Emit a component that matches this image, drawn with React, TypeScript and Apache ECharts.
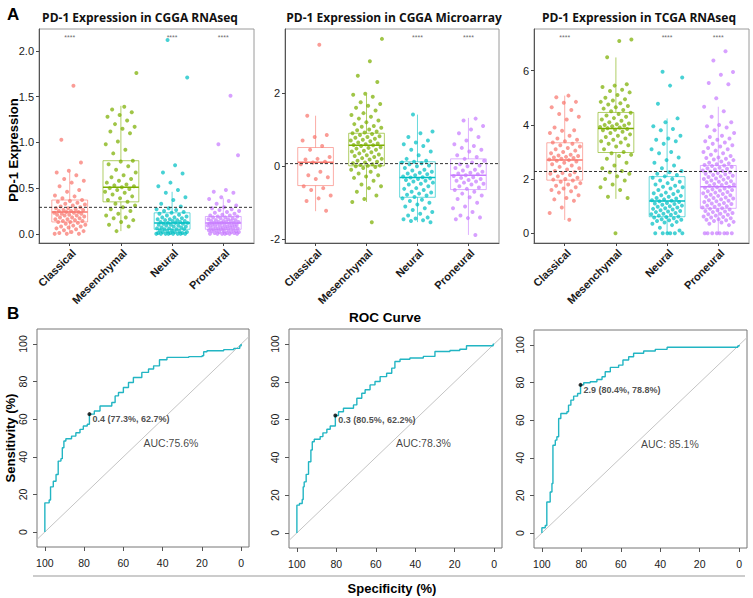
import React, { useEffect, useRef } from 'react';
import * as echarts from 'echarts';

const GROUPS = ['Classical', 'Mesenchymal', 'Neural', 'Proneural'];
const COLORS = ['#F8766D', '#7CAE00', '#00BFC4', '#C77CFF'];
const PANEL_TITLES = ['PD-1 Expression in CGGA RNAseq', 'PD-1 Expression in CGGA Microarray', 'PD-1 Expression in TCGA RNAseq'];

// box stats per group: [lower whisker, Q1, median, Q3, upper whisker]
const BOX_CGGA_RNA = [[0, 0.13, 0.24, 0.37, 0.68], [0.03, 0.35, 0.51, 0.8, 1.4], [0, 0.05, 0.12, 0.23, 0.46], [0, 0.05, 0.12, 0.19, 0.39]];
const BOX_CGGA_MA = [[-1.23, -0.53, 0.11, 0.51, 1.38], [-0.98, 0.01, 0.57, 0.9, 1.95], [-1.53, -0.85, -0.31, 0.12, 1.41], [-1.88, -0.64, -0.25, 0.2, 1.32]];
const BOX_TCGA = [[0.49, 1.96, 2.7, 3.34, 5.08], [1.27, 2.98, 3.87, 4.46, 6.49], [0, 0.61, 1.19, 2.09, 4.24], [0, 0.92, 1.72, 2.5, 4.67]];

// cut-off (dashed line) per panel
const CUTOFFS = [0.29, 0.07, 2.28];
// significance marks per group
const SIG_CGGA_RNA = [true, false, true, true];
const SIG_CGGA_MA = [false, false, true, true];
const SIG_TCGA = [true, false, true, true];
const SIG_LABEL = '****';

// individual sample points
const P1_CLASSICAL = [1.62, 1.03, 0.78, 0.69, 0.67, 0.64, 0.6, 0.58, 0.56, 0.52, 0.48, 0.46, 0.42, 0.41, 0.39, 0.37, 0.36, 0.35, 0.34, 0.33, 0.32, 0.31, 0.3, 0.29, 0.28, 0.28, 0.27, 0.26, 0.26, 0.25, 0.25, 0.24, 0.24, 0.23, 0.23, 0.22, 0.22, 0.21, 0.21, 0.2, 0.2, 0.19, 0.18, 0.18, 0.17, 0.16, 0.16, 0.15, 0.14, 0.14, 0.13, 0.13, 0.12, 0.11, 0.1, 0.09, 0.08, 0.08, 0.07, 0.06, 0.05, 0.04, 0.03, 0.02, 0.01, 0, 0, 0];
const P1_MESENCHYMAL = [1.76, 1.39, 1.36, 1.33, 1.3, 1.28, 1.24, 1.2, 1.17, 1.15, 1.12, 1.1, 1.01, 0.98, 0.92, 0.88, 0.8, 0.79, 0.76, 0.74, 0.7, 0.67, 0.64, 0.62, 0.6, 0.58, 0.56, 0.54, 0.53, 0.52, 0.51, 0.5, 0.49, 0.48, 0.46, 0.45, 0.43, 0.41, 0.39, 0.37, 0.35, 0.33, 0.31, 0.29, 0.27, 0.25, 0.22, 0.2, 0.18, 0.17, 0.15, 0.13, 0.1, 0.08, 0.03];
const P1_NEURAL = [2.12, 1.71, 0.75, 0.67, 0.66, 0.56, 0.52, 0.48, 0.45, 0.4, 0.37, 0.33, 0.3, 0.28, 0.27, 0.26, 0.25, 0.24, 0.23, 0.22, 0.21, 0.2, 0.19, 0.18, 0.18, 0.17, 0.16, 0.16, 0.15, 0.15, 0.14, 0.14, 0.13, 0.13, 0.12, 0.12, 0.12, 0.11, 0.11, 0.1, 0.1, 0.09, 0.09, 0.08, 0.08, 0.07, 0.07, 0.06, 0.06, 0.05, 0.05, 0.05, 0.04, 0.04, 0.03, 0.03, 0.02, 0.02, 0.02, 0.01, 0.01, 0.01, 0, 0, 0, 0, 0, 0, 0, 0];
const P1_PRONEURAL = [1.51, 0.98, 0.86, 0.48, 0.46, 0.45, 0.4, 0.38, 0.36, 0.33, 0.31, 0.29, 0.28, 0.27, 0.26, 0.25, 0.24, 0.23, 0.22, 0.21, 0.2, 0.2, 0.19, 0.19, 0.18, 0.18, 0.17, 0.17, 0.16, 0.16, 0.15, 0.15, 0.14, 0.14, 0.14, 0.13, 0.13, 0.13, 0.12, 0.12, 0.12, 0.11, 0.11, 0.11, 0.1, 0.1, 0.1, 0.09, 0.09, 0.09, 0.08, 0.08, 0.08, 0.07, 0.07, 0.07, 0.06, 0.06, 0.06, 0.05, 0.05, 0.05, 0.04, 0.04, 0.04, 0.03, 0.03, 0.03, 0.02, 0.02, 0.02, 0.01, 0.01, 0.01, 0, 0, 0, 0, 0, 0];

const P2_CLASSICAL = [3.32, 1.38, 0.85, 0.8, 0.7, 0.55, 0.45, 0.25, 0.2, 0.18, 0.12, 0.1, 0.05, -0.15, -0.25, -0.3, -0.35, -0.55, -0.6, -0.65, -0.8, -0.88, -0.95, -1.22];
const P2_MESENCHYMAL = [3.48, 2.87, 2.47, 2.3, 1.98, 1.95, 1.9, 1.75, 1.7, 1.65, 1.6, 1.52, 1.45, 1.4, 1.35, 1.3, 1.25, 1.2, 1.15, 1.1, 1.08, 1.05, 1.0, 0.98, 0.95, 0.92, 0.9, 0.88, 0.85, 0.82, 0.8, 0.78, 0.75, 0.72, 0.7, 0.68, 0.65, 0.62, 0.6, 0.58, 0.57, 0.55, 0.52, 0.5, 0.48, 0.45, 0.42, 0.4, 0.38, 0.35, 0.32, 0.3, 0.28, 0.25, 0.22, 0.2, 0.18, 0.15, 0.12, 0.1, 0.08, 0.05, 0.03, 0.02, 0.01, 0, -0.02, -0.05, -0.1, -0.15, -0.2, -0.25, -0.28, -0.32, -0.4, -0.5, -0.55, -0.6, -0.7, -0.8, -0.9, -0.98, -1.53];
const P2_NEURAL = [1.41, 0.95, 0.9, 0.8, 0.7, 0.65, 0.6, 0.55, 0.45, 0.4, 0.3, 0.2, 0.15, 0.12, 0.1, 0.08, 0.05, 0.02, 0, -0.05, -0.1, -0.12, -0.15, -0.18, -0.2, -0.22, -0.25, -0.28, -0.3, -0.31, -0.33, -0.35, -0.38, -0.4, -0.42, -0.45, -0.48, -0.5, -0.55, -0.6, -0.62, -0.65, -0.7, -0.72, -0.75, -0.78, -0.8, -0.84, -0.88, -0.92, -0.95, -1.0, -1.05, -1.1, -1.15, -1.2, -1.25, -1.3, -1.35, -1.4, -1.43, -1.45, -1.48, -1.5, -1.53];
const P2_PRONEURAL = [1.3, 1.25, 1.1, 1.0, 0.9, 0.8, 0.7, 0.6, 0.55, 0.5, 0.45, 0.4, 0.3, 0.25, 0.2, 0.15, 0.1, 0.05, 0.02, 0, -0.05, -0.1, -0.12, -0.15, -0.18, -0.2, -0.22, -0.25, -0.27, -0.3, -0.32, -0.35, -0.38, -0.4, -0.42, -0.45, -0.48, -0.5, -0.55, -0.58, -0.62, -0.65, -0.7, -0.75, -0.8, -0.85, -0.9, -1.0, -1.1, -1.15, -1.25, -1.35, -1.4, -1.42, -1.45, -1.88];

const P3_CLASSICAL = [5.08, 5.02, 4.85, 4.82, 4.65, 4.55, 4.4, 4.3, 4.2, 3.9, 3.8, 3.78, 3.7, 3.6, 3.5, 3.45, 3.4, 3.35, 3.3, 3.25, 3.2, 3.15, 3.1, 3.05, 3.0, 2.95, 2.9, 2.87, 2.85, 2.82, 2.8, 2.78, 2.75, 2.72, 2.7, 2.68, 2.65, 2.6, 2.55, 2.5, 2.45, 2.4, 2.35, 2.3, 2.25, 2.22, 2.2, 2.15, 2.1, 2.05, 2.0, 1.98, 1.95, 1.9, 1.85, 1.8, 1.75, 1.7, 1.65, 1.6, 1.55, 1.5, 1.4, 1.3, 1.25, 1.2, 0.95, 0.75, 0.5];
const P3_MESENCHYMAL = [7.15, 7.1, 6.5, 5.5, 5.45, 5.4, 5.3, 5.25, 5.2, 5.1, 5.0, 4.95, 4.9, 4.85, 4.8, 4.75, 4.7, 4.65, 4.6, 4.55, 4.5, 4.45, 4.4, 4.35, 4.3, 4.25, 4.2, 4.15, 4.1, 4.05, 4.02, 4.0, 3.98, 3.95, 3.92, 3.9, 3.88, 3.85, 3.82, 3.8, 3.75, 3.7, 3.65, 3.6, 3.55, 3.5, 3.45, 3.4, 3.35, 3.3, 3.25, 3.2, 3.1, 3.0, 2.95, 2.9, 2.85, 2.75, 2.6, 2.5, 2.4, 2.3, 2.25, 2.2, 2.1, 2.0, 1.95, 1.8, 1.7, 1.6, 1.35, 1.3, 0];
const P3_NEURAL = [5.96, 5.75, 5.45, 4.78, 4.24, 4.1, 3.95, 3.85, 3.8, 3.6, 3.5, 3.45, 3.4, 3.3, 3.1, 3.0, 2.95, 2.8, 2.7, 2.6, 2.5, 2.4, 2.3, 2.25, 2.2, 2.15, 2.1, 2.05, 2.0, 1.95, 1.9, 1.85, 1.8, 1.75, 1.72, 1.7, 1.65, 1.6, 1.55, 1.5, 1.48, 1.45, 1.4, 1.38, 1.35, 1.3, 1.28, 1.25, 1.22, 1.2, 1.18, 1.15, 1.12, 1.1, 1.08, 1.05, 1.02, 1.0, 0.98, 0.95, 0.92, 0.9, 0.88, 0.85, 0.82, 0.8, 0.78, 0.75, 0.72, 0.7, 0.68, 0.65, 0.62, 0.6, 0.58, 0.55, 0.52, 0.5, 0.48, 0.45, 0.42, 0.4, 0.35, 0.3, 0.2, 0.1, 0, 0, 0, 0, 0, 0];
const P3_PRONEURAL = [6.72, 6.38, 5.95, 5.85, 5.55, 5.5, 4.98, 4.67, 4.5, 4.3, 4.1, 4.0, 3.95, 3.9, 3.8, 3.7, 3.6, 3.55, 3.5, 3.45, 3.4, 3.35, 3.3, 3.25, 3.2, 3.15, 3.1, 3.05, 3.0, 2.95, 2.9, 2.85, 2.8, 2.78, 2.75, 2.72, 2.7, 2.65, 2.6, 2.58, 2.55, 2.52, 2.5, 2.48, 2.45, 2.42, 2.4, 2.38, 2.35, 2.32, 2.3, 2.28, 2.25, 2.22, 2.2, 2.18, 2.15, 2.12, 2.1, 2.08, 2.05, 2.02, 2.0, 1.98, 1.95, 1.92, 1.9, 1.88, 1.85, 1.82, 1.8, 1.78, 1.75, 1.72, 1.7, 1.68, 1.65, 1.62, 1.6, 1.58, 1.55, 1.52, 1.5, 1.48, 1.45, 1.42, 1.4, 1.38, 1.35, 1.32, 1.3, 1.28, 1.25, 1.22, 1.2, 1.18, 1.15, 1.12, 1.1, 1.08, 1.05, 1.02, 1.0, 0.98, 0.95, 0.92, 0.9, 0.88, 0.85, 0.82, 0.8, 0.78, 0.75, 0.72, 0.7, 0.68, 0.65, 0.62, 0.6, 0.58, 0.55, 0.52, 0.5, 0.48, 0.45, 0.42, 0.4, 0.35, 0.3, 0, 0, 0, 0, 0, 0, 0, 0];

// ROC step points (specificity %, sensitivity %)
const ROC1_SPEC = [100, 97.8, 97.1, 95.7, 94.3, 93.2, 91.8, 91.1, 90.3, 89.3, 86.4, 84.2, 82.1, 80.4, 78.4, 77.3, 74.8, 71.9, 65.9, 64.2, 62.5, 60, 57.4, 54.9, 50.6, 47.2, 44.6, 41.6, 37.8, 26.7, 19.9, 19.1, 17.4, 8.9, 3.7, 0.7, 0];
const ROC1_SENS = [15.5, 17, 24, 27, 30.6, 37.7, 39, 44.8, 48.4, 49.6, 51, 52.8, 54.6, 56.4, 57.3, 62.7, 64.4, 67, 68.9, 72.4, 74.2, 76.9, 79.5, 82.2, 84.9, 86.7, 88.4, 91.6, 92.9, 93.3, 93.8, 95.9, 96.4, 97, 97.7, 99, 100];
const ROC2_SPEC = [100, 98.7, 97.3, 96.8, 96.3, 95.3, 94.1, 92.9, 92.2, 91.2, 88.2, 86.8, 84.8, 83.1, 80.5, 78.9, 76.4, 71.3, 69.6, 67.1, 65.4, 62.9, 60.4, 57.8, 54.5, 51.9, 50.3, 47.7, 42.7, 35.9, 30, 22.4, 17.4, 14, 0.5, 0];
const ROC2_SENS = [14.7, 15.6, 17.7, 24.4, 27, 31, 37.7, 43.9, 48.3, 49.6, 51, 53, 54.9, 56.6, 62.2, 64.2, 66, 67.8, 71.3, 74, 75.8, 78.4, 80.2, 82.8, 84.6, 87.3, 90.8, 92, 92.6, 93.5, 96.1, 96.6, 97.3, 99.1, 100, 100];
const ROC3_SPEC = [100, 98.3, 97.5, 95.8, 94.9, 94.4, 93.2, 92.4, 91.5, 90.4, 87.3, 86.5, 85.3, 83.9, 81.9, 80.4, 78.8, 75.5, 72.1, 69.5, 67.9, 65.3, 61.1, 58.9, 56, 53.5, 48.4, 42.5, 36.5, 0.7, 0];
const ROC3_SENS = [2.8, 4, 16.5, 21.8, 26.3, 46.7, 49.4, 51.2, 60.9, 63.6, 64.5, 68, 70.7, 72.8, 74.2, 78.8, 79.9, 80.5, 81.7, 83.1, 85.8, 88.1, 89.3, 92, 93.8, 95.6, 96.8, 97.7, 98.8, 99.5, 100];

// best thresholds: [threshold, specificity, sensitivity]
const BEST = [[0.4, 77.3, 62.7], [0.3, 80.5, 62.2], [2.9, 80.4, 78.8]];
const AUC_LABELS = ['AUC:75.6%', 'AUC:78.3%', 'AUC: 85.1%'];
const AUC_POS = [[50, 47.5], [50, 47.5], [50, 47.5]];
const ROC_TICKS = [0, 20, 40, 60, 80, 100];

const FONT = 'Liberation Sans, Arial, sans-serif';
const ROC_COLOR = '#22B5C3';

function rgba(hex: string, a: number) {
  const n = parseInt(hex.slice(1), 16);
  return `rgba(${(n >> 16) & 255},${(n >> 8) & 255},${n & 255},${a})`;
}

function jitter(i: number, g: number) {
  return ((((i + 1) * 0.6180339887 + g * 0.37) % 1) - 0.5) * 0.62;
}

const BOX_GRIDS = [
  { left: 39, top: 29, width: 215, height: 214 },
  { left: 285, top: 29, width: 214, height: 214 },
  { left: 534, top: 29, width: 215, height: 214 },
];
const ROC_GRIDS = [
  { left: 37, top: 329, width: 212, height: 218 },
  { left: 289, top: 329, width: 213, height: 219 },
  { left: 534, top: 330, width: 213, height: 218 },
];

export default function App() {
  const ref = useRef<HTMLDivElement>(null);
  useEffect(() => {
    if (!ref.current) return;
    const chart = echarts.init(ref.current, null, { renderer: 'svg' });

    const boxPanels = [
      { boxes: BOX_CGGA_RNA, pts: [P1_CLASSICAL, P1_MESENCHYMAL, P1_NEURAL, P1_PRONEURAL], sig: SIG_CGGA_RNA, range: [-0.1, 2.24], ticks: [0, 0.5, 1, 1.5, 2], fmt: (v: number) => v.toFixed(1) },
      { boxes: BOX_CGGA_MA, pts: [P2_CLASSICAL, P2_MESENCHYMAL, P2_NEURAL, P2_PRONEURAL], sig: SIG_CGGA_MA, range: [-2.1, 3.75], ticks: [-2, 0, 2], fmt: (v: number) => String(v) },
      { boxes: BOX_TCGA, pts: [P3_CLASSICAL, P3_MESENCHYMAL, P3_NEURAL, P3_PRONEURAL], sig: SIG_TCGA, range: [-0.36, 7.54], ticks: [0, 2, 4, 6], fmt: (v: number) => String(v) },
    ];
    const rocs = [
      { spec: ROC1_SPEC, sens: ROC1_SENS },
      { spec: ROC2_SPEC, sens: ROC2_SENS },
      { spec: ROC3_SPEC, sens: ROC3_SENS },
    ];

    const grid: any[] = [];
    const xAxis: any[] = [];
    const yAxis: any[] = [];
    const series: any[] = [];

    boxPanels.forEach((p, k) => {
      const span = p.range[1] - p.range[0];
      grid.push({ ...BOX_GRIDS[k], show: true, borderColor: '#9a9a9a', borderWidth: 1, containLabel: false });
      xAxis.push({
        gridIndex: k, type: 'value', min: 0.4, max: 4.6,
        axisLine: { show: true, onZero: false, lineStyle: { color: '#555', width: 1 } },
        axisTick: { show: true, customValues: [1, 2, 3, 4], length: 3, lineStyle: { color: '#444' } },
        axisLabel: { show: false },
        splitLine: { show: false },
      });
      yAxis.push({
        gridIndex: k, type: 'value', min: p.range[0], max: p.range[1],
        axisLine: { show: true, onZero: false, lineStyle: { color: '#555', width: 1 } },
        axisTick: { show: true, customValues: p.ticks, length: 3, lineStyle: { color: '#444' } },
        axisLabel: { customValues: p.ticks, formatter: p.fmt, margin: 5, fontSize: 11, color: '#1a1a1a', fontFamily: FONT },
        splitLine: { show: false },
      });
      // boxes
      series.push({
        type: 'custom', xAxisIndex: k, yAxisIndex: k, silent: true, z: 2,
        data: p.boxes.map((b, i) => [i + 1, ...b]),
        renderItem: (params: any, api: any) => {
          const x = api.value(0);
          const col = COLORS[params.dataIndex];
          const lo = api.coord([x, api.value(1)]);
          const q1 = api.coord([x, api.value(2)]);
          const md = api.coord([x, api.value(3)]);
          const q3 = api.coord([x, api.value(4)]);
          const hi = api.coord([x, api.value(5)]);
          const l = api.coord([x - 0.35, api.value(3)])[0];
          const r = api.coord([x + 0.35, api.value(3)])[0];
          const cx = lo[0];
          const st = { stroke: rgba(col, 0.6), lineWidth: 1, fill: 'none' };
          return {
            type: 'group',
            children: [
              { type: 'line', shape: { x1: cx, y1: hi[1], x2: cx, y2: q3[1] }, style: st },
              { type: 'line', shape: { x1: cx, y1: q1[1], x2: cx, y2: lo[1] }, style: st },
              { type: 'rect', shape: { x: l, y: q3[1], width: r - l, height: q1[1] - q3[1] }, style: st },
              { type: 'line', shape: { x1: l, y1: md[1], x2: r, y2: md[1] }, style: { stroke: col, lineWidth: 1.5 } },
            ],
          };
        },
      });
      // points
      p.pts.forEach((vals, g) => {
        series.push({
          type: 'scatter', xAxisIndex: k, yAxisIndex: k, silent: true, z: 3,
          symbolSize: 4,
          itemStyle: { color: rgba(COLORS[g], 0.9) },
          data: vals.map((v, i) => [g + 1 + jitter(i, g), v]),
        });
      });
      // cutoff
      series.push({
        type: 'line', xAxisIndex: k, yAxisIndex: k, silent: true, z: 4, symbol: 'none',
        lineStyle: { color: '#333', width: 1, type: [3, 2] },
        data: [[0.4, CUTOFFS[k]], [4.6, CUTOFFS[k]]],
      });
      // significance
      const sigY = p.range[1] - span * 0.038;
      series.push({
        type: 'scatter', xAxisIndex: k, yAxisIndex: k, silent: true, z: 5,
        symbolSize: 1, itemStyle: { color: 'rgba(0,0,0,0)' },
        label: { show: true, position: 'inside', formatter: SIG_LABEL, fontSize: 7, color: '#444', fontFamily: FONT },
        data: p.sig.map((s, g) => (s ? [g + 1, sigY] : null)).filter(Boolean),
      });
    });

    rocs.forEach((r, j) => {
      const k = j + 3;
      grid.push({ ...ROC_GRIDS[j], show: true, borderColor: '#777', borderWidth: 1, containLabel: false });
      xAxis.push({
        gridIndex: k, type: 'value', min: -4, max: 104, inverse: true,
        axisLine: { show: false, onZero: false },
        axisTick: { show: true, customValues: ROC_TICKS, length: 4, lineStyle: { color: '#555' } },
        axisLabel: { customValues: ROC_TICKS, margin: 10, fontSize: 10.5, color: '#1a1a1a', fontFamily: FONT },
        splitLine: { show: false },
      });
      yAxis.push({
        gridIndex: k, type: 'value', min: -8, max: 108,
        axisLine: { show: false, onZero: false },
        axisTick: { show: true, customValues: ROC_TICKS, length: 4, lineStyle: { color: '#555' } },
        axisLabel: { show: false },
        splitLine: { show: false },
      });
      // diagonal
      series.push({
        type: 'line', xAxisIndex: k, yAxisIndex: k, silent: true, symbol: 'none', z: 2,
        lineStyle: { color: '#c4c4c4', width: 1 },
        data: [[104, -4], [-4, 104]],
      });
      // stepped curve
      const pts: number[][] = [[r.spec[0], 0]];
      r.spec.forEach((s, i) => {
        const prevSens = i === 0 ? 0 : r.sens[i - 1];
        pts.push([s, prevSens]);
        pts.push([s, r.sens[i]]);
      });
      series.push({
        type: 'line', xAxisIndex: k, yAxisIndex: k, silent: true, symbol: 'none', z: 3,
        lineStyle: { color: ROC_COLOR, width: 1.4 },
        data: pts,
      });
      // best threshold
      const b = BEST[j];
      series.push({
        type: 'scatter', xAxisIndex: k, yAxisIndex: k, silent: true, z: 4,
        symbolSize: 4, itemStyle: { color: '#000' },
        label: { show: true, position: 'right', distance: 1, offset: [0, 5], formatter: `${b[0]} (${b[1]}%, ${b[2]}%)`, fontSize: 9, fontWeight: 'bold', color: '#222', fontFamily: FONT },
        data: [[b[1], b[2]]],
      });
      // AUC
      series.push({
        type: 'scatter', xAxisIndex: k, yAxisIndex: k, silent: true, z: 4,
        symbolSize: 1, itemStyle: { color: 'rgba(0,0,0,0)' },
        label: { show: true, position: 'right', distance: 0, formatter: AUC_LABELS[j], fontSize: 10.5, color: '#111', fontFamily: FONT },
        data: [AUC_POS[j]],
      });
    });

    const graphic: any[] = [
      { type: 'text', x: 7, y: 14, style: { text: 'A', font: 'bold 17px Liberation Sans, Arial', fill: '#000', textAlign: 'left', textVerticalAlign: 'middle' } },
      { type: 'text', x: 7, y: 313, style: { text: 'B', font: 'bold 17px Liberation Sans, Arial', fill: '#000', textAlign: 'left', textVerticalAlign: 'middle' } },
      { type: 'text', x: 140, y: 17, style: { text: PANEL_TITLES[0], font: 'bold 12px Open Sans, sans-serif', fill: '#111', textAlign: 'center', textVerticalAlign: 'middle' } },
      { type: 'text', x: 394, y: 17, style: { text: PANEL_TITLES[1], font: 'bold 12px Open Sans, sans-serif', fill: '#111', textAlign: 'center', textVerticalAlign: 'middle' } },
      { type: 'text', x: 639, y: 17, style: { text: PANEL_TITLES[2], font: 'bold 12px Open Sans, sans-serif', fill: '#111', textAlign: 'center', textVerticalAlign: 'middle' } },
      { type: 'text', x: 13, y: 150, rotation: Math.PI / 2, style: { text: 'PD-1 Expression', font: 'bold 13px Liberation Sans, Arial', fill: '#000', textAlign: 'center', textVerticalAlign: 'middle' } },
      { type: 'text', x: 10, y: 438, rotation: Math.PI / 2, style: { text: 'Sensitivity (%)', font: 'bold 13px Liberation Sans, Arial', fill: '#000', textAlign: 'center', textVerticalAlign: 'middle' } },
      { type: 'text', x: 392, y: 588, style: { text: 'Specificity (%)', font: 'bold 13px Liberation Sans, Arial', fill: '#000', textAlign: 'center', textVerticalAlign: 'middle' } },
      { type: 'text', x: 385, y: 317, style: { text: 'ROC Curve', font: 'bold 13.5px Liberation Sans, Arial', fill: '#000', textAlign: 'center', textVerticalAlign: 'middle' } },
      { type: 'line', shape: { x1: 33, y1: 576, x2: 745, y2: 576 }, style: { stroke: '#999', lineWidth: 1 } },
    ];

    chart.setOption({
      animation: false,
      backgroundColor: '#fff',
      grid, xAxis, yAxis, series, graphic,
    });

    // rotated axis labels placed through the axes' own scales
    const extra: any[] = [];
    boxPanels.forEach((p, k) => {
      GROUPS.forEach((name, g) => {
        const pt = chart.convertToPixel({ gridIndex: k } as any, [g + 1, p.range[0]]) as any;
        extra.push({
          type: 'text', x: pt[0] + 4, y: pt[1] + 8, rotation: Math.PI / 4,
          style: { text: name, font: 'bold 11px Liberation Sans, Arial', fill: '#1a1a1a', textAlign: 'right', textVerticalAlign: 'middle' },
        });
      });
    });
    rocs.forEach((_, j) => {
      const k = j + 3;
      ROC_TICKS.forEach((t) => {
        const pt = chart.convertToPixel({ gridIndex: k } as any, [104, t]) as any;
        extra.push({
          type: 'text', x: pt[0] - 9, y: pt[1], rotation: Math.PI / 2,
          style: { text: String(t), font: '10.5px Liberation Sans, Arial', fill: '#1a1a1a', textAlign: 'center', textVerticalAlign: 'bottom' },
        });
      });
    });
    chart.setOption({ graphic: [...graphic, ...extra] });

    return () => chart.dispose();
  }, []);
  return <div ref={ref} style={{ position: 'absolute', left: 0, top: 0, width: 753, height: 598 }} />;
}
